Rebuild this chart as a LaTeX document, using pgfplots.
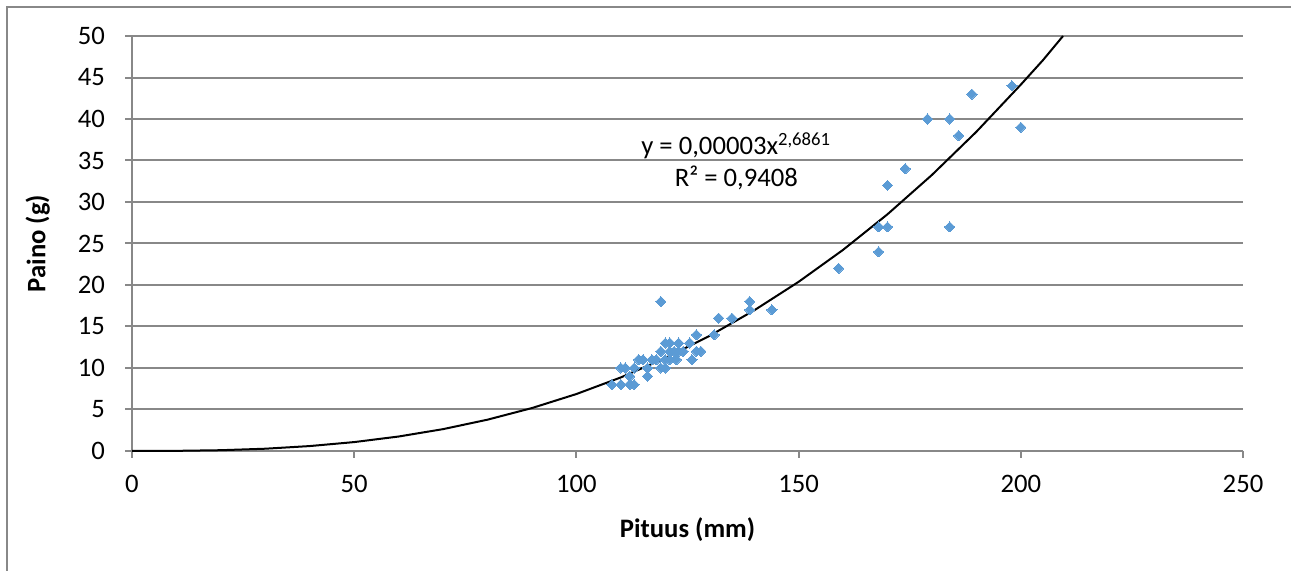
\documentclass[border=0pt]{standalone}
\usepackage{pgfplots}
\pgfplotsset{compat=1.18}
\usepackage{fontspec}
\setmainfont{Carlito}
\definecolor{ptblue}{HTML}{5B9BD5}
\definecolor{gridgray}{HTML}{888888}

\pgfplotstableread{
x y
108 8
110 8
112 8
113 8
112 9
116 9
110 10
111 10
113 10
116 10
119 10
120 10
114 11
115 11
117 11
118 11
120 11
121 11
122.5 11
126 11
119 12
121 12
122 12
123 12
124 12
127 12
128 12
120 13
121 13
123 13
125.5 13
127 14
131 14
119 18
132 16
135 16
139 17
139 18
144 17
159 22
168 24
168 27
170 27
170 32
174 34
179 40
184 40
186 38
184 27
189 43
198 44
200 39
}\kalat

\begin{document}
\begin{tikzpicture}
\path[use as bounding box] (0,0) rectangle (484.1pt,214.1pt);
\draw[gridgray, line width=0.75pt] (2.6pt,0) -- (2.6pt,211.5pt) -- (484.1pt,211.5pt);
\begin{axis}[
    at={(49.5pt,45pt)}, anchor=south west,
    scale only axis,
    width=416.6pt, height=155.6pt,
    xmin=0, xmax=250, ymin=0, ymax=50,
    xtick={0,50,...,250}, ytick={0,5,...,50},
    axis lines*=left,
    axis line style={gridgray, line width=0.75pt},
    ymajorgrids,
    major grid style={gridgray, line width=0.75pt},
    tick align=outside,
    major tick length=2.6pt,
    tick style={gridgray, line width=0.75pt},
    tick label style={font=\fontsize{10}{12}\selectfont},
    /pgf/number format/assume math mode=true,
    yticklabel style={xshift=-4pt},
    xticklabel style={yshift=-3pt},
    xlabel={\textbf{Pituus (mm)}},
    ylabel={\textbf{Paino (g)}},
    xlabel style={yshift=-2.6pt},
    ylabel style={yshift=3.7pt},
    label style={font=\fontsize{10}{12}\selectfont},
    clip=false,
]
\addplot[ptblue, only marks, mark=square*, mark size=1.35pt,
    mark options={rotate=45, fill=ptblue, draw=ptblue, line width=0pt}] table {\kalat};
\addplot[black, line width=0.75pt] coordinates {
    (0,0) (10,0.014) (20,0.091) (30,0.27) (40,0.59) (50,1.07) (60,1.74)
    (70,2.63) (80,3.77) (90,5.17) (100,6.86) (110,8.86) (120,11.19)
    (130,13.88) (140,16.94) (150,20.38) (160,24.23) (170,28.52)
    (180,33.26) (190,38.46) (200,44.14) (205,47.1) (209.5,50)
};
\node[align=center, font=\fontsize{10}{12}\selectfont] at (axis cs:136,34.9)
    {y = 0,00003x\textsuperscript{2,6861}\\R² = 0,9408};
\end{axis}
\end{tikzpicture}
\end{document}
